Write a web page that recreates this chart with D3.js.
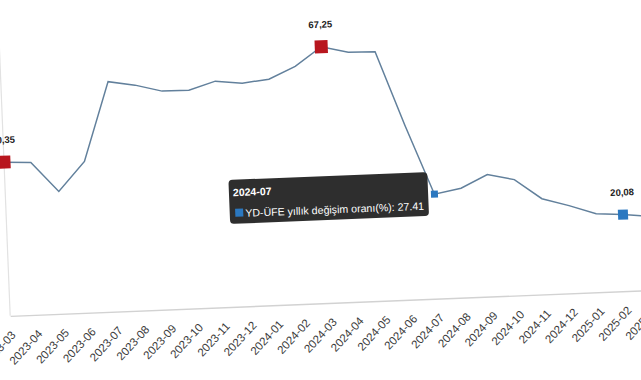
<!DOCTYPE html>
<html>
<head>
<meta charset="utf-8">
<script src="https://cdn.jsdelivr.net/npm/d3@7"></script>
<style>
  html, body { margin: 0; padding: 0; background: #fff; }
  svg { display: block; }
</style>
</head>
<body>
<svg id="chart" width="641" height="380"></svg>
<script>
// ---- data ----
const months = ["2023-03","2023-04","2023-05","2023-06","2023-07","2023-08","2023-09","2023-10","2023-11","2023-12",
                "2024-01","2024-02","2024-03","2024-04","2024-05","2024-06","2024-07","2024-08","2024-09","2024-10",
                "2024-11","2024-12","2025-01","2025-02","2025-03"];
const values = [40.35, 40.0, 32.1, 39.7, 60.35, 59.15, 57.3, 57.25, 59.35, 58.55,
                59.3, 62.4, 67.25, 65.55, 65.4, 45.8, 27.41, 28.7, 32.0, 30.4,
                25.1, 23.0, 20.6, 20.08, 19.4];
const yTicks = [0, 80];
const labelMonths = ["2023-03", "2024-03", "2025-02"];
const labelTexts = ["40,35", "67,25", "20,08"];
const redMarkerMonths = ["2023-03", "2024-03"];
const blueMarkerMonths = ["2025-02"];
const hoverMonth = "2024-07";
const seriesName = "YD-ÜFE yıllık değişim oranı(%)";

// ---- drawing ----
const svg = d3.select("#chart");
const g = svg.append("g").attr("transform", "rotate(-2.3)");

const x = d3.scalePoint().domain(months).range([-2.5, 640.7]);
const y = d3.scaleLinear().domain([yTicks[0], yTicks[1]]).range([316, 11]);

// left axis line
g.append("line")
  .attr("x1", x(months[0])).attr("x2", x(months[0]))
  .attr("y1", 40).attr("y2", y(0))
  .attr("stroke", "#e2e2e2").attr("stroke-width", 1.2);

// bottom axis
const xAxis = g.append("g")
  .attr("transform", `translate(0,${y(0)})`)
  .call(d3.axisBottom(x).tickSize(0).tickPadding(0));
xAxis.select(".domain").attr("stroke", "#d2d2d2").attr("stroke-width", 1.4);
xAxis.selectAll(".tick text")
  .attr("x", 0).attr("y", 0).attr("dy", "0.35em")
  .attr("transform", "translate(2,17) rotate(-45)")
  .attr("text-anchor", "end")
  .attr("fill", "#3a3a3a")
  .style("font-family", "'Liberation Sans', Arial, sans-serif")
  .style("font-size", "11.5px");

// line
const data = months.map((m, i) => ({ m, v: values[i] }));
g.append("path")
  .datum(data)
  .attr("fill", "none")
  .attr("stroke", "#62809c")
  .attr("stroke-width", 1.5)
  .attr("d", d3.line().x(d => x(d.m)).y(d => y(d.v)));

const valueOf = m => values[months.indexOf(m)];

// red markers
g.selectAll("rect.red")
  .data(redMarkerMonths)
  .join("rect")
  .attr("class", "red")
  .attr("x", m => x(m) - 6.5).attr("y", m => y(valueOf(m)) - 6.5)
  .attr("width", 13).attr("height", 13)
  .attr("fill", "#b8161e");

// blue markers
g.selectAll("rect.blue")
  .data(blueMarkerMonths)
  .join("rect")
  .attr("class", "blue")
  .attr("x", m => x(m) - 5).attr("y", m => y(valueOf(m)) - 5)
  .attr("width", 10).attr("height", 10)
  .attr("fill", "#2b78c0");

// hover marker
g.append("rect")
  .attr("x", x(hoverMonth) - 3.5).attr("y", y(valueOf(hoverMonth)) - 3.5)
  .attr("width", 7).attr("height", 7)
  .attr("fill", "#2b78c0");

// data labels
g.selectAll("text.dl")
  .data(labelMonths)
  .join("text")
  .attr("class", "dl")
  .attr("x", m => x(m))
  .attr("y", m => y(valueOf(m)) - 19)
  .attr("text-anchor", "middle")
  .attr("fill", "#222")
  .style("font-family", "'Liberation Sans', Arial, sans-serif")
  .style("font-size", "9.5px")
  .style("font-weight", "bold")
  .text((m, i) => labelTexts[i]);

// tooltip
const tip = g.append("g").attr("transform", "translate(221,189)");
tip.append("rect")
  .attr("width", 199).attr("height", 44).attr("rx", 4)
  .attr("fill", "#2e2e2e");
tip.append("text")
  .attr("x", 4).attr("y", 16.5)
  .attr("fill", "#fff")
  .style("font-family", "'Liberation Sans', Arial, sans-serif")
  .style("font-size", "10.5px")
  .style("font-weight", "bold")
  .text(hoverMonth);
tip.append("rect")
  .attr("x", 5.5).attr("y", 29).attr("width", 8).attr("height", 8)
  .attr("fill", "#2b78c0");
tip.append("text")
  .attr("x", 15.5).attr("y", 37.5)
  .attr("fill", "#fff")
  .style("font-family", "'Liberation Sans', Arial, sans-serif")
  .style("font-size", "10.6px")
  .text(`${seriesName}: ${d3.format(".2f")(valueOf(hoverMonth))}`);
</script>
</body>
</html>
